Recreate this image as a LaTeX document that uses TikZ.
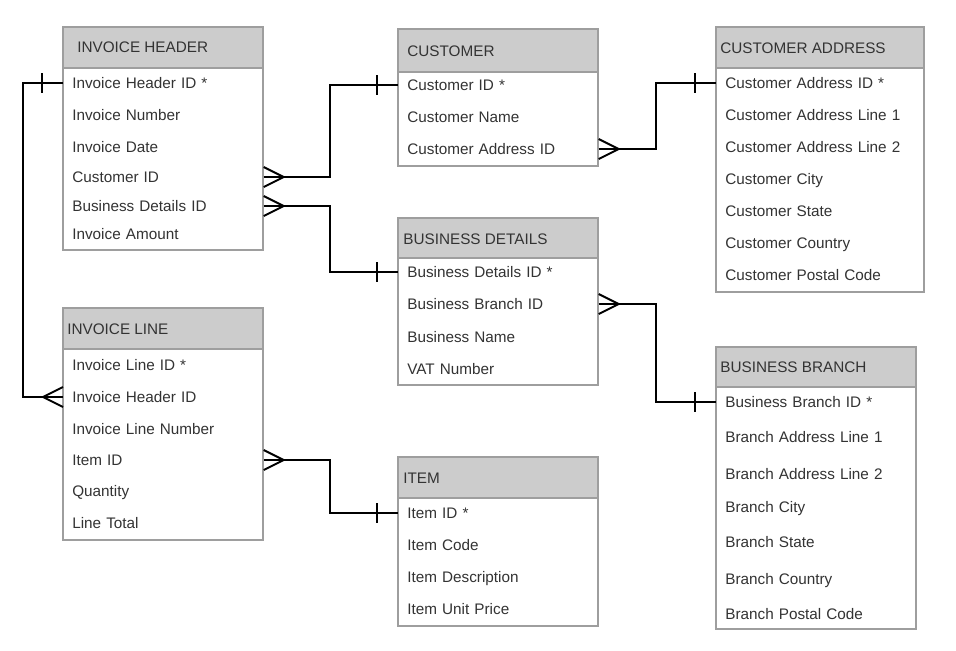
\documentclass[tikz,border=0pt]{standalone}
\usepackage{fontspec}
\setmainfont{Liberation Sans}
\usetikzlibrary{calc}

\definecolor{hdrgray}{HTML}{CCCCCC}
\definecolor{boxgray}{HTML}{9E9E9E}
\definecolor{txtgray}{HTML}{333333}

\tikzset{
  tbl/.style={draw=boxgray, line width=0.7pt, fill=white},
  hdr/.style={draw=boxgray, line width=0.7pt, fill=hdrgray},
  title/.style={anchor=west, inner sep=0pt, text=txtgray,
    font=\fontsize{8.7}{10}\selectfont, text height=6.2pt, text depth=0pt},
  field/.style={anchor=west, inner xsep=5.12pt, inner ysep=0pt, text width=#1,
    align=left, text=txtgray, font=\fontsize{8.7}{10}\selectfont,
    text height=6.2pt, text depth=0pt},
  field/.default=3.64cm,
  rel/.style={line width=1.1pt, black},
}

\begin{document}
\begin{tikzpicture}[x=0.02cm,y=-0.02cm]
\useasboundingbox (0,0) rectangle (956,650);

%% tables
% invoice header
\draw[tbl] (63,27) rectangle (263,250);
\draw[hdr] (63,27) rectangle (263,68);
\node[title] (ihtitle) at (77,47) {INVOICE HEADER};
\node[field] (ihid)   at (63,83)  {Invoice Header ID *};
\node[field] (ihnum)  at (63,115) {Invoice Number};
\node[field] (ihdate) at (63,147) {Invoice Date};
\node[field] (ihcust) at (63,177) {Customer ID};
\node[field] (ihbus)  at (63,206) {Business Details ID};
\node[field] (ihamt)  at (63,234) {Invoice Amount};

% invoice line
\draw[tbl] (63,308) rectangle (263,540);
\draw[hdr] (63,308) rectangle (263,349);
\node[title] (iltitle) at (67,329) {INVOICE LINE};
\node[field] (ilid)   at (63,365) {Invoice Line ID *};
\node[field] (ilhid)  at (63,397) {Invoice Header ID};
\node[field] (ilnum)  at (63,429) {Invoice Line Number};
\node[field] (ilitem) at (63,460) {Item ID};
\node[field] (ilqty)  at (63,491) {Quantity};
\node[field] (iltot)  at (63,523) {Line Total};

% customer
\draw[tbl] (398,29) rectangle (598,166);
\draw[hdr] (398,29) rectangle (598,72);
\node[title] (cutitle) at (407,51) {CUSTOMER};
\node[field] (cuid)   at (398,85)  {Customer ID *};
\node[field] (cuname) at (398,117) {Customer Name};
\node[field] (cuaddr) at (398,149) {Customer Address ID};

% business details
\draw[tbl] (398,218) rectangle (598,385);
\draw[hdr] (398,218) rectangle (598,258);
\node[title] (bdtitle) at (403,239) {BUSINESS DETAILS};
\node[field] (bdid)     at (398,272) {Business Details ID *};
\node[field] (bdbranch) at (398,304) {Business Branch ID};
\node[field] (bdname)   at (398,337) {Business Name};
\node[field] (bdvat)    at (398,369) {VAT Number};

% item
\draw[tbl] (398,457) rectangle (598,626);
\draw[hdr] (398,457) rectangle (598,498);
\node[title] (ittitle) at (403,478) {ITEM};
\node[field] (itid)    at (398,513) {Item ID *};
\node[field] (itcode)  at (398,545) {Item Code};
\node[field] (itdesc)  at (398,577) {Item Description};
\node[field] (itprice) at (398,609) {Item Unit Price};

% customer address
\draw[tbl] (716,27) rectangle (924,292);
\draw[hdr] (716,27) rectangle (924,68);
\node[title] (catitle) at (720,48) {CUSTOMER ADDRESS};
\node[field=3.8cm] (caid)      at (716,83)  {Customer Address ID *};
\node[field=3.8cm] (caline1)   at (716,115) {Customer Address Line 1};
\node[field=3.8cm] (caline2)   at (716,147) {Customer Address Line 2};
\node[field=3.8cm] (cacity)    at (716,179) {Customer City};
\node[field=3.8cm] (castate)   at (716,211) {Customer State};
\node[field=3.8cm] (cacountry) at (716,243) {Customer Country};
\node[field=3.8cm] (capostal)  at (716,275) {Customer Postal Code};

% business branch
\draw[tbl] (716,347) rectangle (916,629);
\draw[hdr] (716,347) rectangle (916,387);
\node[title] (bbtitle) at (720,367) {BUSINESS BRANCH};
\node[field] (bbid)      at (716,402) {Business Branch ID *};
\node[field] (bbline1)   at (716,437) {Branch Address Line 1};
\node[field] (bbline2)   at (716,474) {Branch Address Line 2};
\node[field] (bbcity)    at (716,507) {Branch City};
\node[field] (bbstate)   at (716,542) {Branch State};
\node[field] (bbcountry) at (716,579) {Branch Country};
\node[field] (bbpostal)  at (716,614) {Branch Postal Code};

%% relationships
\coordinate (colL) at (23,0);
\coordinate (colA) at (330,0);
\coordinate (colB) at (656,0);

% header -> line
\draw[rel] (ihid.west) -- (ihid.west -| colL) |- (ilhid.west);
\draw[rel] ($(ihid.west)+(-21,-10)$) -- ++(0,20);
\draw[rel] ($(ilhid.west)+(0,-10)$) -- ($(ilhid.west)+(-20,0)$) -- ($(ilhid.west)+(0,10)$);

% header -> customer
\draw[rel] (ihcust.east) -- (ihcust.east -| colA) |- (cuid.west);
\draw[rel] ($(ihcust.east)+(0,-10)$) -- ($(ihcust.east)+(20,0)$) -- ($(ihcust.east)+(0,10)$);
\draw[rel] ($(cuid.west)+(-21,-10)$) -- ++(0,20);

% header -> business details
\draw[rel] (ihbus.east) -- (ihbus.east -| colA) |- (bdid.west);
\draw[rel] ($(ihbus.east)+(0,-10)$) -- ($(ihbus.east)+(20,0)$) -- ($(ihbus.east)+(0,10)$);
\draw[rel] ($(bdid.west)+(-21,-10)$) -- ++(0,20);

% line -> item
\draw[rel] (ilitem.east) -- (ilitem.east -| colA) |- (itid.west);
\draw[rel] ($(ilitem.east)+(0,-10)$) -- ($(ilitem.east)+(20,0)$) -- ($(ilitem.east)+(0,10)$);
\draw[rel] ($(itid.west)+(-21,-10)$) -- ++(0,20);

% customer -> address
\draw[rel] (cuaddr.east) -- (cuaddr.east -| colB) |- (caid.west);
\draw[rel] ($(cuaddr.east)+(0,-10)$) -- ($(cuaddr.east)+(20,0)$) -- ($(cuaddr.east)+(0,10)$);
\draw[rel] ($(caid.west)+(-21,-10)$) -- ++(0,20);

% business details -> branch
\draw[rel] (bdbranch.east) -- (bdbranch.east -| colB) |- (bbid.west);
\draw[rel] ($(bdbranch.east)+(0,-10)$) -- ($(bdbranch.east)+(20,0)$) -- ($(bdbranch.east)+(0,10)$);
\draw[rel] ($(bbid.west)+(-21,-10)$) -- ++(0,20);

\end{tikzpicture}
\end{document}
